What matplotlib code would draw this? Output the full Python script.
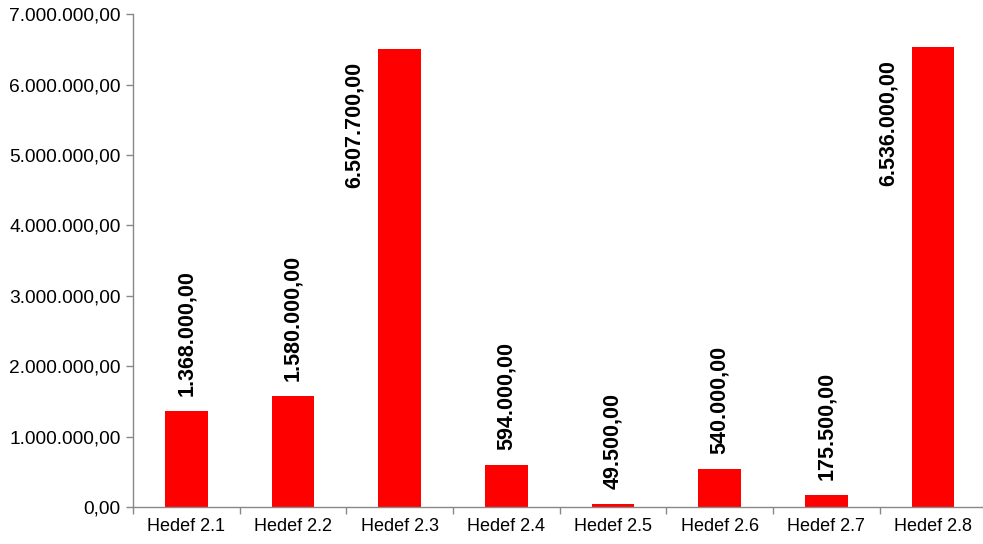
import matplotlib
matplotlib.use("Agg")
import matplotlib.pyplot as plt
from matplotlib.ticker import FuncFormatter, FixedLocator, MultipleLocator

plt.rcParams['font.family'] = ['Liberation Sans', 'DejaVu Sans']

categories = ["Hedef 2.1", "Hedef 2.2", "Hedef 2.3", "Hedef 2.4",
              "Hedef 2.5", "Hedef 2.6", "Hedef 2.7", "Hedef 2.8"]
values = [1368000, 1580000, 6507700, 594000, 49500, 540000, 175500, 6536000]

def tr_fmt(v):
    s = f"{v:,.2f}"
    return s.replace(",", "X").replace(".", ",").replace("X", ".")

fig = plt.figure(figsize=(9.83, 5.44), dpi=100)
ax = fig.add_axes([0.1353, 0.068, 0.868, 0.906])

x = list(range(len(categories)))
ax.bar(x, values, width=0.4, color="#FF0000", edgecolor="none")

ax.set_xlim(-0.5, len(categories) - 0.5)
ax.set_ylim(0, 7000000)
ax.yaxis.set_major_locator(MultipleLocator(1000000))
ax.yaxis.set_major_formatter(FuncFormatter(lambda v, p: tr_fmt(v)))

ax.set_xticks(x)
ax.set_xticklabels(categories)
ax.xaxis.set_minor_locator(FixedLocator([i - 0.5 for i in range(len(categories) + 1)]))
ax.tick_params(axis='x', which='major', length=0, labelsize=13, pad=8)
ax.tick_params(axis='x', which='minor', length=5, color="#888888", width=1)
ax.tick_params(axis='y', length=5, color="#888888", width=1, labelsize=13.8, pad=4)

for s in ['top', 'right']:
    ax.spines[s].set_visible(False)
for s in ['left', 'bottom']:
    ax.spines[s].set_color("#888888")
    ax.spines[s].set_linewidth(1)

for xi, v in zip(x, values):
    if v > 5000000:
        ax.annotate(tr_fmt(v), (xi, v), xytext=(-45, -13), textcoords='offset pixels',
                    rotation=90, ha='center', va='top', fontsize=15.5, fontweight='bold')
    else:
        ax.annotate(tr_fmt(v), (xi, v), xytext=(0, 15), textcoords='offset pixels',
                    rotation=90, ha='center', va='bottom', fontsize=15.5, fontweight='bold')

fig.savefig("out.png", dpi=100)
